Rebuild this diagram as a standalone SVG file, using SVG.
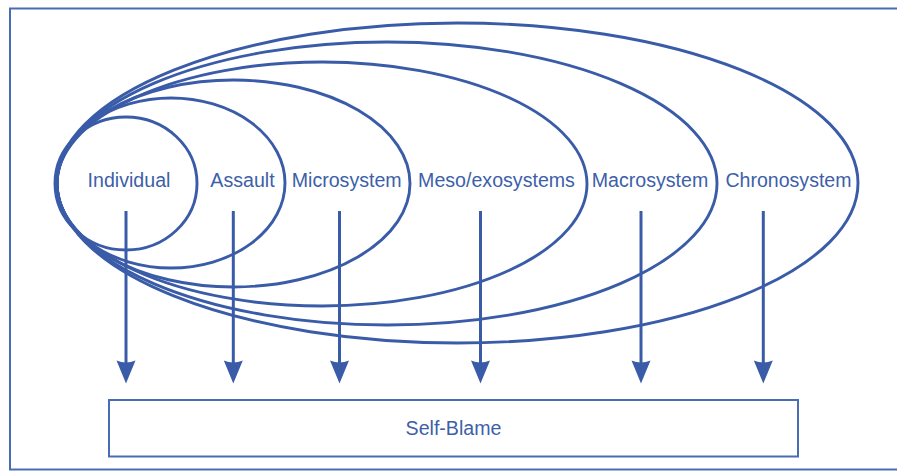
<svg xmlns="http://www.w3.org/2000/svg" width="897" height="474" viewBox="0 0 897 474">
  <style>
    .ring { fill: none; stroke: #3a5ca8; stroke-width: 2.9; }
    .lbl { font-family: "Liberation Sans", Arial, sans-serif; font-size: 19.6px; fill: #3d5fa9; text-anchor: middle; }
    .shaft { stroke: #3a5ca8; stroke-width: 3; }
    .head { fill: #3a5ca8; }
    .frame { fill: none; stroke: #4a6cb4; stroke-width: 2; }
  </style>
  <defs>
    <path id="ahead" d="M0,0 L-9.5,-23 Q0,-19 9.5,-23 Z"/>
  </defs>

  <rect class="frame" x="10" y="8.5" width="900" height="461"/>

  <!-- nested system ellipses, all touching on the left -->
  <g id="chronosystem">
    <ellipse class="ring" cx="457.5" cy="183" rx="400.5" ry="160"/>
    <text class="lbl" x="788.5" y="187" textLength="126" lengthAdjust="spacingAndGlyphs">Chronosystem</text>
  </g>
  <g id="macrosystem">
    <ellipse class="ring" cx="387" cy="183.5" rx="330" ry="141.5"/>
    <text class="lbl" x="650" y="187">Macrosystem</text>
  </g>
  <g id="mesoexosystems">
    <ellipse class="ring" cx="322" cy="184" rx="265" ry="122"/>
    <text class="lbl" x="496.5" y="187">Meso/exosystems</text>
  </g>
  <g id="microsystem">
    <ellipse class="ring" cx="233.5" cy="183.5" rx="176.5" ry="103.5"/>
    <text class="lbl" x="346.7" y="187">Microsystem</text>
  </g>
  <g id="assault">
    <ellipse class="ring" cx="171" cy="183" rx="114" ry="85"/>
    <text class="lbl" x="242.5" y="187">Assault</text>
  </g>
  <g id="individual">
    <ellipse class="ring" cx="126" cy="183.5" rx="71" ry="66.5"/>
    <text class="lbl" x="129" y="187">Individual</text>
  </g>

  <g id="connectors">
    <line class="shaft" x1="126" y1="211" x2="126" y2="365"/>
    <use href="#ahead" class="head" x="126" y="383.5"/>
    <line class="shaft" x1="233.3" y1="211" x2="233.3" y2="365"/>
    <use href="#ahead" class="head" x="233.3" y="383.5"/>
    <line class="shaft" x1="339.5" y1="211" x2="339.5" y2="365"/>
    <use href="#ahead" class="head" x="339.5" y="383.5"/>
    <line class="shaft" x1="480.5" y1="211" x2="480.5" y2="365"/>
    <use href="#ahead" class="head" x="480.5" y="383.5"/>
    <line class="shaft" x1="641" y1="211" x2="641" y2="365"/>
    <use href="#ahead" class="head" x="641" y="383.5"/>
    <line class="shaft" x1="763.3" y1="211" x2="763.3" y2="365"/>
    <use href="#ahead" class="head" x="763.3" y="383.5"/>
  </g>

  <g id="self-blame">
    <rect x="109" y="400" width="689" height="56.5" fill="#ffffff" stroke="#4a6cb4" stroke-width="2"/>
    <text class="lbl" x="453.5" y="435">Self-Blame</text>
  </g>
</svg>
